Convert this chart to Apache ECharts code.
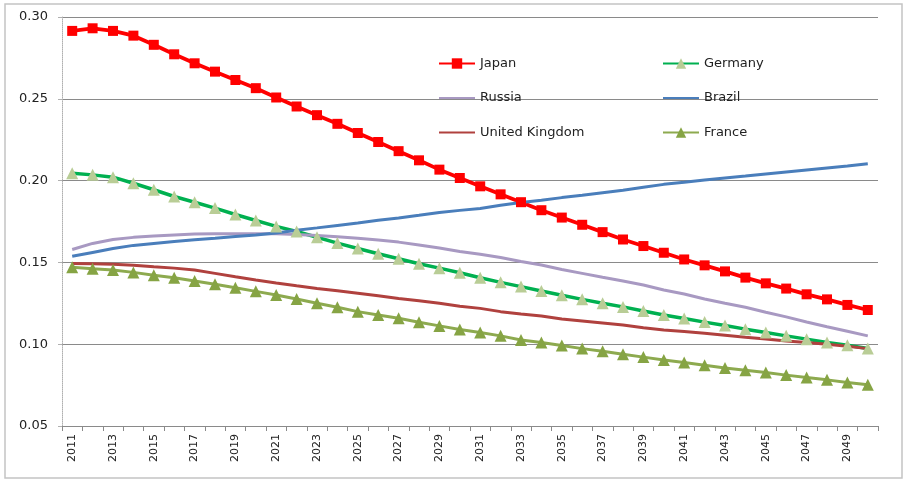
<!DOCTYPE html>
<html>
<head>
<meta charset="utf-8">
<script src="https://cdn.jsdelivr.net/npm/echarts@6/dist/echarts.min.js"></script>
<style>
html,body{margin:0;padding:0;background:#fff;}
#chart{width:903px;height:481px;}
</style>
</head>
<body>
<div id="chart"></div>
<script>
const years = [];
for (let y = 2011; y <= 2050; y++) years.push(String(y));

const japan = [0.2915,0.2931,0.2915,0.2886,0.2830,0.2772,0.2717,0.2666,0.2615,0.2565,
  0.2508,0.2453,0.2400,0.2347,0.2291,0.2236,0.2180,0.2124,0.2067,0.2016,
  0.1965,0.1916,0.1868,0.1819,0.1774,0.1730,0.1685,0.1640,0.1600,0.1559,
  0.1518,0.1482,0.1445,0.1407,0.1372,0.1340,0.1305,0.1274,0.1240,0.1209];
const germany = [0.2045,0.2035,0.2021,0.1984,0.1944,0.1903,0.1868,0.1832,0.1793,0.1756,
  0.1720,0.1689,0.1654,0.1618,0.1585,0.1553,0.1522,0.1492,0.1465,0.1437,
  0.1406,0.1378,0.1352,0.1325,0.1299,0.1274,0.1250,0.1228,0.1203,0.1179,
  0.1157,0.1135,0.1114,0.1092,0.1072,0.1051,0.1031,0.1011,0.0993,0.0974];
const russia = [0.1579,0.1616,0.1640,0.1653,0.1661,0.1667,0.1673,0.1675,0.1675,0.1675,
  0.1675,0.1671,0.1665,0.1657,0.1647,0.1637,0.1624,0.1606,0.1588,0.1567,
  0.1550,0.1530,0.1506,0.1484,0.1457,0.1433,0.1409,0.1386,0.1362,0.1331,
  0.1307,0.1276,0.1250,0.1226,0.1195,0.1167,0.1136,0.1107,0.1079,0.1051];
const brazil = [0.1537,0.1561,0.1585,0.1604,0.1616,0.1628,0.1638,0.1648,0.1659,0.1668,
  0.1680,0.1697,0.1711,0.1726,0.1741,0.1758,0.1772,0.1788,0.1805,0.1818,
  0.1829,0.1849,0.1866,0.1880,0.1896,0.1910,0.1926,0.1941,0.1959,0.1977,
  0.1990,0.2004,0.2016,0.2028,0.2041,0.2053,0.2065,0.2077,0.2089,0.2103];
const uk = [0.1494,0.1492,0.1488,0.1482,0.1473,0.1465,0.1453,0.1433,0.1412,0.1392,
  0.1374,0.1357,0.1341,0.1327,0.1312,0.1296,0.1280,0.1266,0.1250,0.1232,
  0.1219,0.1199,0.1185,0.1173,0.1154,0.1142,0.1130,0.1118,0.1101,0.1087,
  0.1077,0.1067,0.1055,0.1043,0.1032,0.1020,0.1010,0.1000,0.0988,0.0973];
const france = [0.1470,0.1461,0.1453,0.1439,0.1421,0.1406,0.1386,0.1366,0.1345,0.1323,
  0.1301,0.1276,0.1250,0.1226,0.1199,0.1179,0.1159,0.1134,0.1112,0.1090,
  0.1071,0.1051,0.1026,0.1010,0.0992,0.0973,0.0957,0.0939,0.0921,0.0904,
  0.0888,0.0872,0.0855,0.0841,0.0827,0.0811,0.0796,0.0782,0.0766,0.0752];

const FONT = 'DejaVu Sans';
const chart = echarts.init(document.getElementById('chart'), null, {renderer: 'canvas'});

function lineSeries(name, data, color, width, marker) {
  const s = {
    name: name, type: 'line', data: data, smooth: false,
    lineStyle: {color: color, width: width},
    itemStyle: {color: color},
    emphasis: {disabled: true},
    animation: false
  };
  if (marker) {
    s.symbol = marker.symbol;
    s.symbolSize = marker.size;
    s.showSymbol = true;
    s.itemStyle = {color: marker.color};
  } else {
    s.symbol = 'none';
    s.showSymbol = false;
  }
  return s;
}

const legendText = {fontFamily: FONT, fontSize: 13, color: '#222'};
const noMarker = {itemStyle: {opacity: 0}};

chart.setOption({
  backgroundColor: '#ffffff',
  animation: false,
  graphic: [
    {type: 'rect', shape: {x: 5, y: 4, width: 897, height: 474},
     style: {fill: 'none', stroke: '#c4c4c4', lineWidth: 1.5}, silent: true, z: -10}
  ],
  grid: {left: 62, right: 25, top: 17, bottom: 55, containLabel: false},
  legend: [
    {left: 433, top: 52, orient: 'vertical', itemGap: 21.5, itemWidth: 36, itemHeight: 13,
     textStyle: legendText,
     data: ['Japan', Object.assign({name: 'Russia'}, noMarker), Object.assign({name: 'United Kingdom'}, noMarker)]},
    {left: 657, top: 52, orient: 'vertical', itemGap: 21.5, itemWidth: 36, itemHeight: 13,
     textStyle: legendText,
     data: ['Germany', Object.assign({name: 'Brazil'}, noMarker), 'France']}
  ],
  xAxis: {
    type: 'category', data: years, boundaryGap: true,
    axisLine: {lineStyle: {color: '#8a8a8a', width: 1}},
    axisTick: {show: true, interval: 0, length: 5, lineStyle: {color: '#8a8a8a'}},
    axisLabel: {interval: 1, rotate: 90, fontFamily: FONT, fontSize: 11, color: '#222', margin: 8}
  },
  yAxis: {
    type: 'value', min: 0.05, max: 0.30, interval: 0.05,
    axisLine: {show: true, lineStyle: {color: '#b0b0b0', width: 1, type: 'dotted'}},
    axisTick: {show: true, length: 4, lineStyle: {color: '#b0b0b0'}},
    axisLabel: {formatter: v => v.toFixed(2), fontFamily: FONT, fontSize: 13, color: '#222', margin: 14},
    splitLine: {lineStyle: {color: '#8a8a8a', width: 1}}
  },
  series: [
    lineSeries('Japan', japan, '#FF0000', 3.8, {symbol: 'rect', size: 10, color: '#FF0000'}),
    lineSeries('Germany', germany, '#00B050', 3.5, {symbol: 'triangle', size: 12, color: '#B9CD96'}),
    lineSeries('Russia', russia, '#A899C2', 3),
    lineSeries('Brazil', brazil, '#4A7EBB', 3),
    lineSeries('United Kingdom', uk, '#B0413E', 3),
    lineSeries('France', france, '#8DAA4F', 3, {symbol: 'triangle', size: 12, color: '#86A444'})
  ]
});
</script>
</body>
</html>
